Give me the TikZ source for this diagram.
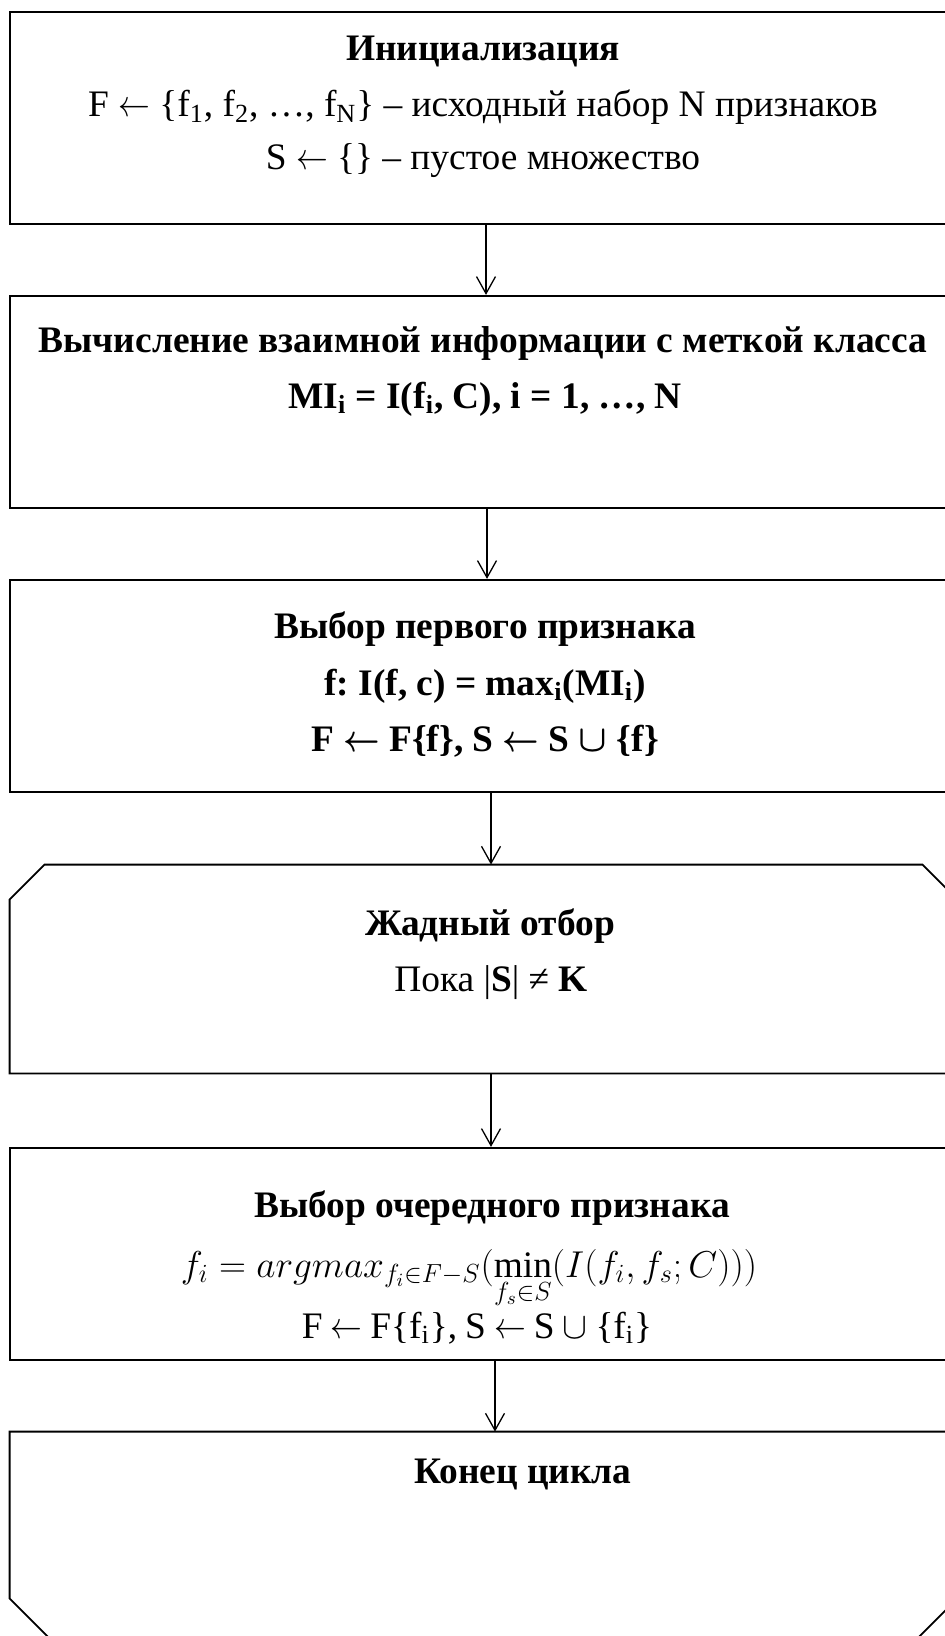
\RequirePackage{fix-cm}
\documentclass[tikz,border=0pt]{standalone}
\usepackage{amsmath}
\usepackage{graphicx}
\usepackage{fontspec}
\setmainfont{Liberation Serif}
\usetikzlibrary{arrows.meta,calc}
\frenchspacing
\tikzset{
  box/.style={draw, line width=1.1pt, minimum width=473.5pt, minimum height=106pt, inner sep=0pt},
  loopanchor/.style={draw=none, minimum width=473.5pt, minimum height=104pt, inner sep=0pt},
  loopline/.style={line width=0.9pt, line join=miter},
  txt/.style={inner sep=0pt, font=\fontsize{18.7}{23}\selectfont},
  conn/.style={line width=0.65pt, -{Straight Barb[length=8.5pt,width=9.5pt,line width=0.65pt]}}
}
\newcommand{\larr}{\ensuremath{\mathrel{\scalebox{0.85}[1]{$\leftarrow$}}}}
\newcommand{\blarr}{\ensuremath{\mathrel{\scalebox{0.85}[1]{$\boldsymbol{\leftarrow}$}}}}
\newcommand{\bcup}{\ensuremath{\boldsymbol{\cup}}}
\newcommand{\gap}{\hspace{4pt}}
\begin{document}
\begin{tikzpicture}[x=0.5pt,y=-0.5pt]
\useasboundingbox (0,0) rectangle (945,1636);
% boxes
\node[box] (b1) at (483.5,118) {};
\node[box] (b2) at (483.5,402) {};
\node[box] (b3) at (483.5,686) {};
\node[loopanchor] (b4) at (483.5,969) {};
\node[box] (b5) at (483.5,1254) {};
\node[loopanchor] (b6) at (483.5,1536) {};
% loop start shape (chamfered top corners)
\draw[loopline] (b4.south west) -- ($(b4.north west)+(0,35)$) -- ($(b4.north west)+(35,0)$)
  -- ($(b4.north east)+(-35,0)$) -- ($(b4.north east)+(0,35)$) -- (b4.south east) -- cycle;
% loop end shape (chamfered bottom corners)
\draw[loopline] (b6.north west) -- ($(b6.south west)+(0,-42)$) -- ($(b6.south west)+(42,0)$)
  -- ($(b6.south east)+(-42,0)$) -- ($(b6.south east)+(0,-42)$) -- (b6.north east) -- cycle;
% texts
\node[txt] (t1a) at (483,52) {\textbf{Инициализация}};
\node[txt] (t1b) at (483,107) {F \larr{} \{f\textsubscript{1}, f\textsubscript{2}, …, f\textsubscript{N}\} – исходный набор N признаков};
\node[txt] (t1c) at (483,161) {S \larr{} \{\} – пустое множество};
\node[txt] (t2a) at (483,344) {\textbf{Вычисление взаимной информации с меткой класса}};
\node[txt] (t2b) at (485,399) {\textbf{MI\textsubscript{i} = I(f\textsubscript{i}, C), i = 1, …, N}};
\node[txt] (t3a) at (485,629) {\textbf{Выбор первого признака}};
\node[txt] (t3b) at (485,686) {\textbf{f: I(f, c) = max\textsubscript{i}(MI\textsubscript{i})}};
\node[txt] (t3c) at (485,741) {\textbf{F \blarr{} F\{f\}, S \blarr{} S \bcup{} \{f\}}};
\node[txt] (t4a) at (490,926) {\textbf{Жадный отбор}};
\node[txt] (t4b) at (491,983) {Пока |\textbf{S}| ≠ \textbf{K}};
\node[txt] (t5a) at (492,1208) {\textbf{Выбор очередного признака}};
\node[txt, anchor=base] (t5b) at (469,1277) {$f_i = argmax_{f_i\in F-S}(\min\limits_{\raisebox{3pt}[0pt][0pt]{$\scriptstyle f_s\in S$}}(I(f_i,f_s;C)))$};
\node[txt] (t5c) at (477,1328) {F\gap\larr\gap F\{f\textsubscript{i}\},\gap S\gap\larr\gap S\gap$\cup$\gap\{f\textsubscript{i}\}};
\node[txt] (t6a) at (523,1474) {\textbf{Конец цикла}};
% connectors
\draw[conn] (b1.south -| 486,0) -- (b2.north -| 486,0);
\draw[conn] (b2.south -| 487,0) -- (b3.north -| 487,0);
\draw[conn] (b3.south -| 491,0) -- (b4.north -| 491,0);
\draw[conn] (b4.south -| 491,0) -- (b5.north -| 491,0);
\draw[conn] (b5.south -| 495,0) -- (b6.north -| 495,0);
\end{tikzpicture}
\end{document}
